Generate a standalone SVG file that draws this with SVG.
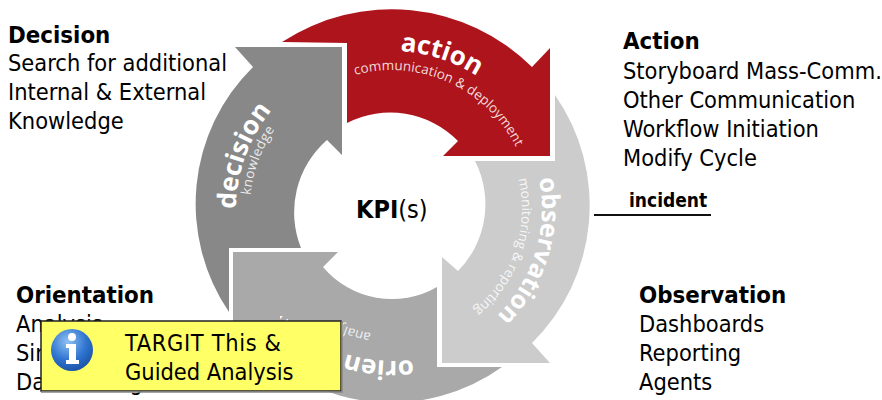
<svg xmlns="http://www.w3.org/2000/svg" width="882" height="400" viewBox="0 0 882 400">
<style>
.l{font-family:"DejaVu Sans Condensed","DejaVu Sans",sans-serif;font-size:23.4px;fill:#000}
.b{font-weight:700;font-size:23.8px}
.big{font-family:"Open Sans","Noto Sans",sans-serif;font-weight:700;font-size:26px;fill:#fff}
.sm{font-family:"Open Sans","Noto Sans",sans-serif;font-size:13.5px;fill:#fff;fill-opacity:.85}
</style>
<defs>
<path id="r158" d="M392 51A158 158 0 1 1 391 51"/>
<path id="r139" d="M392 70A139 139 0 1 1 391 70"/>
<path id="r156" d="M392 53A156 156 0 1 1 391 53"/>
<path id="r142" d="M392 67A142 142 0 1 1 391 67"/>
<path id="r150" d="M392 59A150 150 0 1 1 391 59"/>
<path id="r130" d="M392 79A130 130 0 1 1 391 79"/>
<path id="r152" d="M392 57A152 152 0 1 1 391 57"/>
<path id="r126" d="M392 83A126 126 0 1 1 391 83"/>
<clipPath id="vis"><rect x="342" y="321" width="110" height="79"/><rect x="280" y="316" width="8" height="8"/></clipPath>
<radialGradient id="ball" cx=".4" cy=".3" r=".8"><stop offset="0" stop-color="#8fc0f2"/><stop offset=".55" stop-color="#2f74d0"/><stop offset="1" stop-color="#174a9a"/></radialGradient>
</defs>
<g id="orientation-arrow">
<path fill="#a9a9a9" d="M233 252H338L323 267A90 90 0 0 0 437 287V367H502A190 190 0 0 1 253 343L233 360Z"/>
<g clip-path="url(#vis)">
<g transform="rotate(172 392 209)"><text class="big"><textPath href="#r152">orientation</textPath></text></g>
<g transform="rotate(189.5 392 209)"><text class="sm"><textPath href="#r126">analysis</textPath></text></g>
</g>
</g>
<g id="decision-arrow">
<path fill="#888" d="M235 47H342V155L327 140A96 96 0 0 0 301 248H229V312A192 192 0 0 1 253 67Z"/>
<g transform="rotate(270 392 209)"><text class="big"><textPath href="#r156">decision</textPath></text></g>
<g transform="rotate(275.6 392 209)"><text class="sm" letter-spacing=".3"><textPath href="#r142">knowledge</textPath></text></g>
</g>
<g id="observation-arrow">
<path fill="#ccc" d="M555 95A193 193 0 0 1 532 343L550 363H442V257L458 271A95 95 0 0 0 475 161H555Z"/>
<g transform="rotate(78.3 392 209)"><text class="big" style="font-size:25px"><textPath href="#r150">observation</textPath></text></g>
<g transform="rotate(76.6 392 209)"><text class="sm"><textPath href="#r130">monitoring &amp; reporting</textPath></text></g>
</g>
<g id="action-arrow">
<path fill="#ae141b" d="M282 42A200 200 0 0 1 532 67L550 48V156H443L458 141A95 95 0 0 0 347 123V43Z"/>
<g transform="rotate(3 392 209)"><text class="big"><textPath href="#r158">action</textPath></text></g>
<g transform="rotate(-15.4 392 209)"><text class="sm"><textPath href="#r139">communication &amp; deployment</textPath></text></g>
</g>
<g id="kpi"><text class="l" x="356" y="218" style="font-size:25px"><tspan class="b" style="font-size:25px">KPI</tspan>(s)</text></g>
<g id="decision-label">
<text class="l b" x="8" y="43">Decision</text>
<text class="l" x="8" y="71">Search for additional</text>
<text class="l" x="8" y="100">Internal &amp; External</text>
<text class="l" x="8" y="129">Knowledge</text>
</g>
<g id="action-label">
<text class="l b" x="623" y="49">Action</text>
<text class="l" x="623" y="79">Storyboard Mass-Comm.</text>
<text class="l" x="623" y="108">Other Communication</text>
<text class="l" x="623" y="137">Workflow Initiation</text>
<text class="l" x="623" y="166">Modify Cycle</text>
</g>
<g id="incident">
<text class="l b" x="629" y="207" style="font-size:19px">incident</text>
<line x1="594" y1="215" x2="711" y2="215" stroke="#111" stroke-width="2"/>
</g>
<g id="observation-label">
<text class="l b" x="639" y="303">Observation</text>
<text class="l" x="639" y="332">Dashboards</text>
<text class="l" x="639" y="361">Reporting</text>
<text class="l" x="639" y="390">Agents</text>
</g>
<g id="orientation-label">
<text class="l b" x="16" y="303">Orientation</text>
<text class="l" x="16" y="332">Analysis</text>
<text class="l" x="16" y="361">Simulation</text>
<text class="l" x="16" y="390">Data Mining</text>
</g>
<g id="callout">
<rect x="41" y="321" width="300" height="70" fill="#ffff66" stroke="#222" stroke-width="1.5"/>
<path d="M41 392H342V321" fill="none" stroke="#888" stroke-width="1.5"/>
<circle cx="72" cy="350" r="21" fill="url(#ball)"/>
<circle cx="72" cy="337" r="4" fill="#fff"/>
<path d="M66 344H76V360H79V364H66V360H69V348H66Z" fill="#fff"/>
<text class="l" x="125" y="351" textLength="156">TARGIT This &amp;</text>
<text class="l" x="125" y="380">Guided Analysis</text>
</g>
</svg>
